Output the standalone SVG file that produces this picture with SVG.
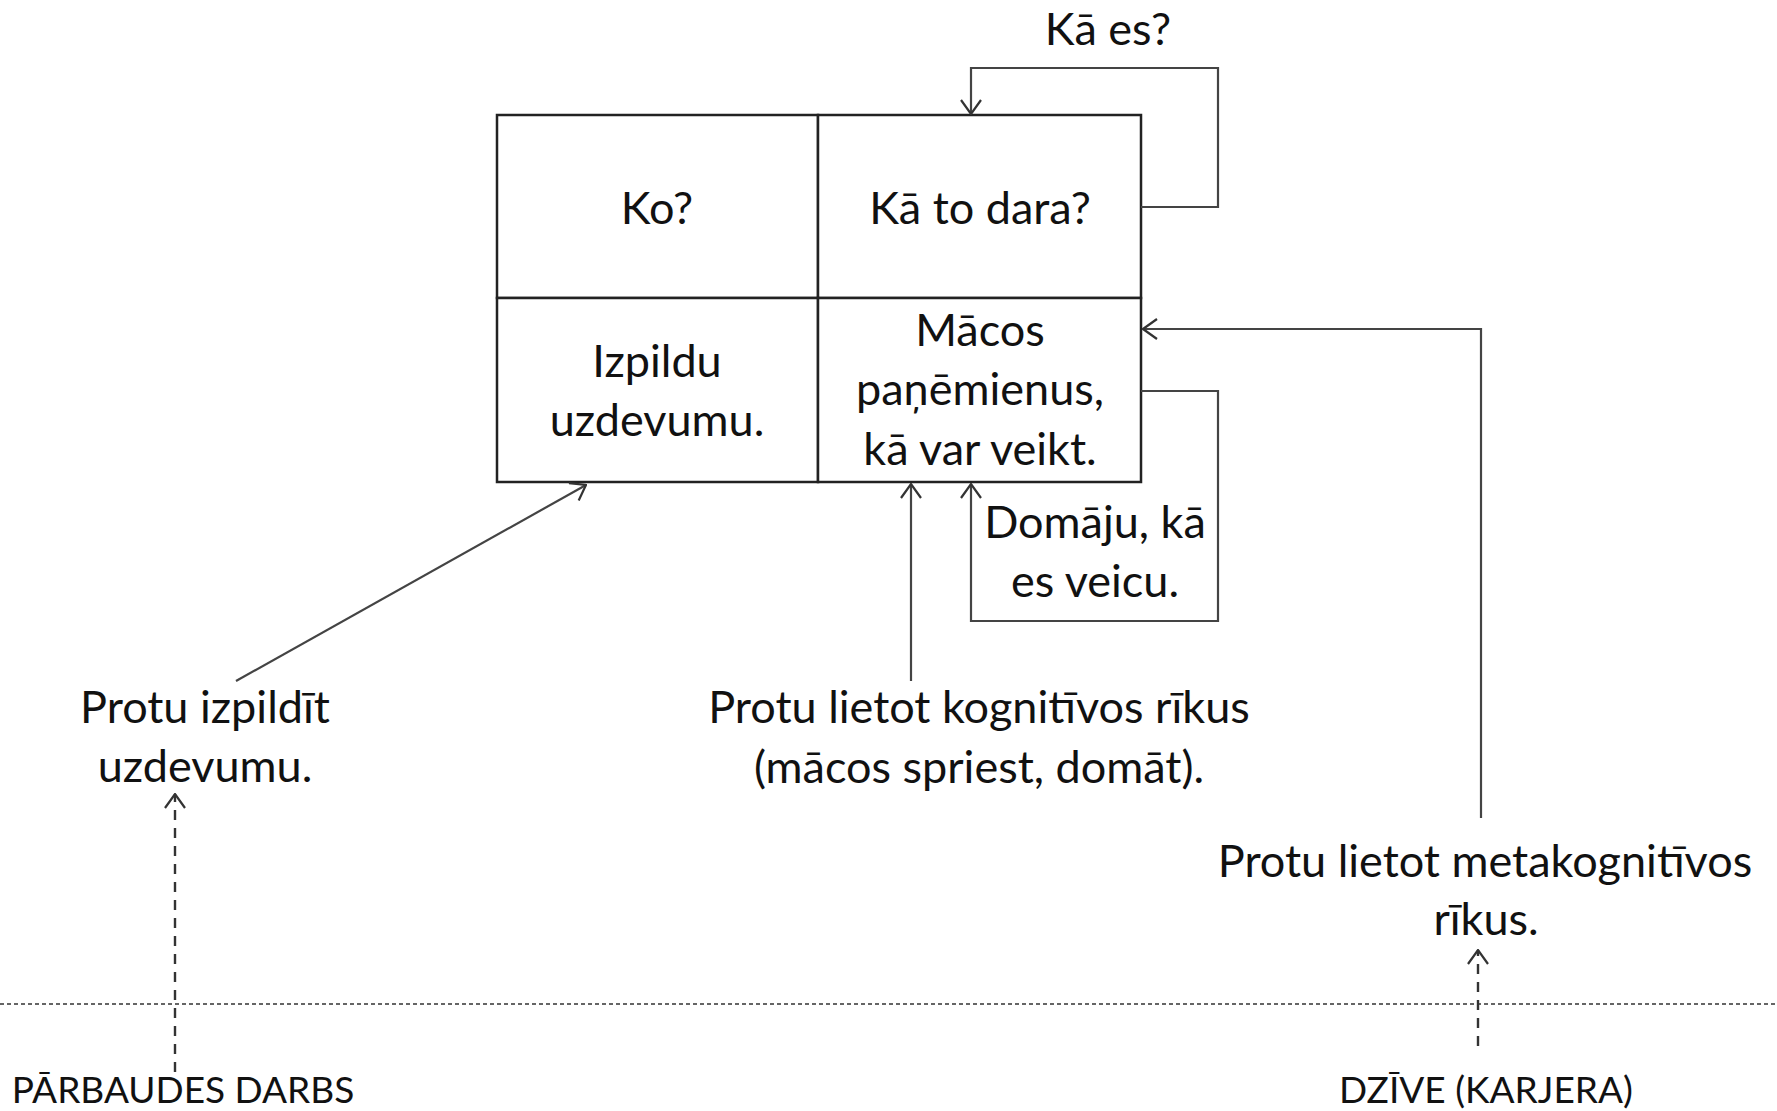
<svg xmlns="http://www.w3.org/2000/svg" width="1777" height="1111" viewBox="0 0 1777 1111">
<style>
.t{font-family:Lato,"Liberation Sans",sans-serif;font-size:45px;fill:#111;text-anchor:middle}
.s{font-family:Lato,"Liberation Sans",sans-serif;font-size:37px;fill:#111;text-anchor:middle}
.cell{fill:#fff;stroke:#222;stroke-width:2.5}
.c{fill:none;stroke:#444;stroke-width:2.2}
.d{fill:none;stroke:#333;stroke-width:2.4;stroke-dasharray:10 8}
.dot{fill:none;stroke:#333;stroke-width:1.6;stroke-dasharray:4 3}
</style>
<defs>
<marker id="arr" viewBox="0 0 16 22" refX="15" refY="11" markerWidth="16" markerHeight="22" markerUnits="userSpaceOnUse" orient="auto">
<path d="M1,1 L15,11 L1,21" fill="none" stroke="#333" stroke-width="2.2"/>
</marker>
</defs>
<g id="grid">
<g id="cell-ko"><rect class="cell" x="497" y="115" width="321" height="183"/><text class="t" x="657" y="224">Ko?</text></g>
<g id="cell-ka-to-dara"><rect class="cell" x="818" y="115" width="323" height="183"/><text class="t" x="980" y="224">Kā to dara?</text></g>
<g id="cell-izpildu"><rect class="cell" x="497" y="298" width="321" height="184"/><text class="t" x="657" y="377">Izpildu</text><text class="t" x="657" y="436">uzdevumu.</text></g>
<g id="cell-macos"><rect class="cell" x="818" y="298" width="323" height="184"/><text class="t" x="980" y="346">Mācos</text><text class="t" x="980" y="405">paņēmienus,</text><text class="t" x="980" y="465">kā var veikt.</text></g>
</g>
<g id="label-ka-es"><text class="t" x="1108" y="45">Kā es?</text></g>
<g id="label-domaju"><text class="t" x="1095" y="538">Domāju, kā</text><text class="t" x="1095" y="597">es veicu.</text></g>
<g id="node-protu-izpildit"><text class="t" x="205" y="723">Protu izpildīt</text><text class="t" x="205" y="782">uzdevumu.</text></g>
<g id="node-kognitivos"><text class="t" x="979" y="723">Protu lietot kognitīvos rīkus</text><text class="t" x="979" y="783">(mācos spriest, domāt).</text></g>
<g id="node-metakognitivos"><text class="t" x="1485" y="877">Protu lietot metakognitīvos</text><text class="t" x="1486" y="935">rīkus.</text></g>
<g id="node-parbaudes"><text class="s" x="183" y="1103">PĀRBAUDES DARBS</text></g>
<g id="node-dzive"><text class="s" x="1486" y="1103">DZĪVE (KARJERA)</text></g>
<g id="connectors">
<path class="c" d="M1141,207 H1218 V68 H971 V114" marker-end="url(#arr)"/>
<path class="c" d="M1481,818 V329 H1143" marker-end="url(#arr)"/>
<path class="c" d="M1141,391 H1218 V621 H971 V484" marker-end="url(#arr)"/>
<path class="c" d="M911,681 V484" marker-end="url(#arr)"/>
<path class="c" d="M236,681 L586,485" marker-end="url(#arr)"/>
<path class="d" d="M175,1072 V794" marker-end="url(#arr)"/>
<path class="d" d="M1478,1046 V950" marker-end="url(#arr)"/>
<path class="dot" d="M0,1004 H1777"/>
</g>
</svg>
